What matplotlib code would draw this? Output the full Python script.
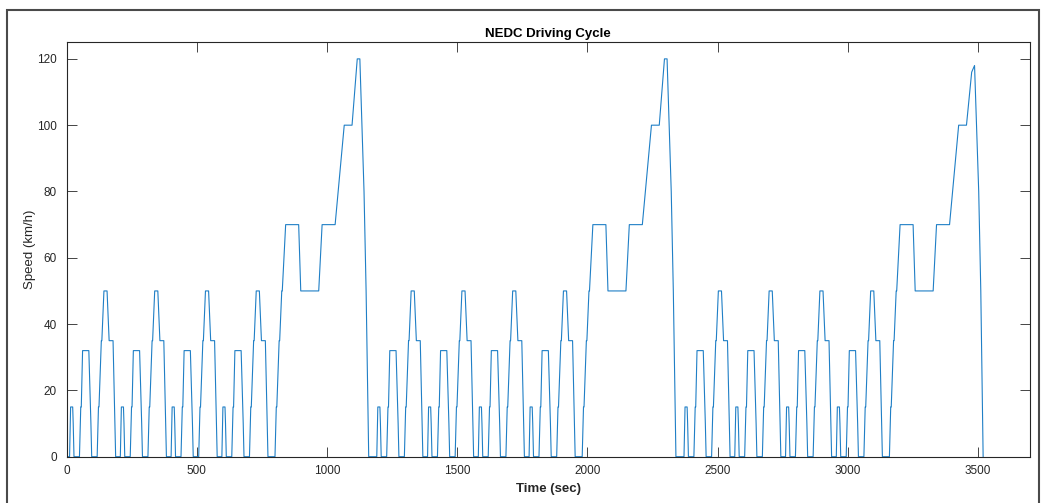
import numpy as np
import matplotlib
matplotlib.use("Agg")
import matplotlib.pyplot as plt
from matplotlib.patches import Rectangle

# ECE-15 urban sub-cycle breakpoints (time s, speed km/h)
ece_t = [0, 11, 15, 23, 25, 28, 49, 54, 56, 61, 85, 93, 96, 117, 122, 124,
         133, 135, 143, 155, 163, 176, 178, 185, 188, 195]
ece_v = [0, 0, 15, 15, 10, 0, 0, 15, 15, 32, 32, 10, 0, 0, 15, 15,
         35, 35, 50, 50, 35, 35, 35, 10, 0, 0]

# EUDC extra-urban sub-cycle breakpoints
eudc_t = [0, 20, 25, 27, 36, 38, 46, 48, 61, 111, 119, 188, 201, 251, 286,
          316, 336, 346, 362, 370, 380, 400]
eudc_v = [0, 0, 15, 15, 35, 35, 50, 50, 70, 70, 50, 50, 70, 70, 100,
          100, 120, 120, 80, 50, 0, 0]

# final (truncated) EUDC of the third cycle
eudc_last_t = [0, 20, 25, 27, 36, 38, 46, 48, 61, 111, 119, 188, 201, 251,
               286, 316, 336, 347, 363, 371, 380]
eudc_last_v = [0, 0, 15, 15, 35, 35, 50, 50, 70, 70, 50, 50, 70, 70,
               100, 100, 116, 118, 80, 50, 0]

n_cycles = 3
ece_len = 195
eudc_len = 400
ece_per_cycle = 4

x_ticks = [0, 500, 1000, 1500, 2000, 2500, 3000, 3500]
y_ticks = [0, 20, 40, 60, 80, 100, 120]

# assemble the sequence
T, V = [], []
offset = 0
for c in range(n_cycles):
    for k in range(ece_per_cycle):
        T += [offset + t for t in ece_t]
        V += list(ece_v)
        offset += ece_len
    if c < n_cycles - 1:
        T += [offset + t for t in eudc_t]
        V += list(eudc_v)
    else:
        T += [offset + t for t in eudc_last_t]
        V += list(eudc_last_v)
    offset += eudc_len

plt.rcParams['font.family'] = ['Liberation Sans', 'DejaVu Sans']

W, H = 1041, 503
fig = plt.figure(figsize=(W / 100, H / 100), dpi=100)
fig.patch.set_facecolor('white')

# outer frame of the figure window
fig.add_artist(Rectangle((7 / W, -0.05), (1039 - 7) / W, 1.05 - 10 / H,
                         transform=fig.transFigure, fill=False,
                         edgecolor='#4a4a4a', linewidth=1.5))

ax = fig.add_axes([66.7 / W, (H - 456.7) / H, (1030 - 66.7) / W, (456.7 - 42.3) / H])
ax.plot(T, V, color='#1f7fc6', linewidth=0.8)

ax.set_xlim(0, 3700)
ax.set_ylim(0, 125)
ax.set_xticks(x_ticks)
ax.set_yticks(y_ticks)
ax.tick_params(direction='in', top=True, right=True, length=7, width=0.6,
               labelsize=8.5, colors='#262626', pad=6)
ax.tick_params(axis='y', pad=7)
for s in ax.spines.values():
    s.set_color('#262626')
    s.set_linewidth(0.8)

ax.set_title('NEDC Driving Cycle', fontsize=9.5, fontweight='bold', color='black', pad=4)
ax.set_xlabel('Time (sec)', fontsize=9.5, fontweight='bold', color='#262626', labelpad=4)
ax.set_ylabel('Speed (km/h)', fontsize=9.5, color='#262626', labelpad=1)

fig.savefig('out.png', dpi=100)
